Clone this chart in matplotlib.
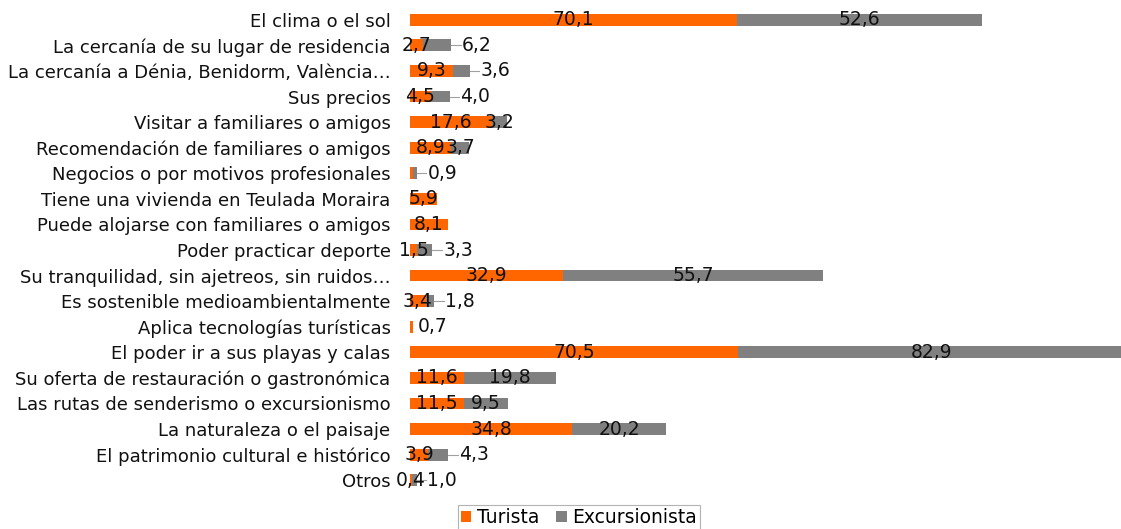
import matplotlib
matplotlib.use("Agg")
import matplotlib.pyplot as plt

categories = [
    "El clima o el sol",
    "La cercanía de su lugar de residencia",
    "La cercanía a Dénia, Benidorm, València…",
    "Sus precios",
    "Visitar a familiares o amigos",
    "Recomendación de familiares o amigos",
    "Negocios o por motivos profesionales",
    "Tiene una vivienda en Teulada Moraira",
    "Puede alojarse con familiares o amigos",
    "Poder practicar deporte",
    "Su tranquilidad, sin ajetreos, sin ruidos…",
    "Es sostenible medioambientalmente",
    "Aplica tecnologías turísticas",
    "El poder ir a sus playas y calas",
    "Su oferta de restauración o gastronómica",
    "Las rutas de senderismo o excursionismo",
    "La naturaleza o el paisaje",
    "El patrimonio cultural e histórico",
    "Otros",
]
turista = [70.1, 2.7, 9.3, 4.5, 17.6, 8.9, 0.6, 5.9, 8.1, 1.5,
           32.9, 3.4, 0.7, 70.5, 11.6, 11.5, 34.8, 3.9, 0.4]
excursionista = [52.6, 6.2, 3.6, 4.0, 3.2, 3.7, 0.9, 0.0, 0.0, 3.3,
                 55.7, 1.8, 0.0, 82.9, 19.8, 9.5, 20.2, 4.3, 1.0]

# label placement (Excel best-fit look)
turista_nolabel = {6}
turista_outside = {12}
excur_outside = {1, 2, 3, 6, 9, 11, 17, 18}

ORANGE = "#FF6600"
GRAY = "#808080"
TXT = "#111111"
FS_CAT = 13
FS_VAL = 13.5

plt.rcParams['font.family'] = ['DejaVu Sans']

fig = plt.figure(figsize=(11.21, 5.29), dpi=100)
ax = fig.add_axes([410 / 1121, 1 - 493 / 529, 1 - 410 / 1121, 486 / 529])

y = list(range(len(categories)))
ax.barh(y, turista, height=0.46, color=ORANGE, label="Turista")
ax.barh(y, excursionista, left=turista, height=0.46, color=GRAY, label="Excursionista")

ax.set_xlim(0, 152.6)
ax.set_ylim(len(categories) - 0.5, -0.5)
ax.set_yticks(y)
ax.set_yticklabels(categories, fontsize=FS_CAT, color=TXT)
ax.tick_params(axis='y', length=0, pad=14)
ax.set_xticks([])
for s in ax.spines.values():
    s.set_visible(False)

def fmt(v):
    return f"{v:.1f}".replace(".", ",")

for i in y:
    t, e = turista[i], excursionista[i]
    if i not in turista_nolabel:
        if i in turista_outside:
            ax.text(t + 1.0, i, fmt(t), ha='left', va='center', fontsize=FS_VAL, color=TXT)
        else:
            ax.text(t / 2, i, fmt(t), ha='center', va='center', fontsize=FS_VAL, color=TXT)
    if e > 0:
        end = t + e
        if i in excur_outside:
            ax.plot([end, end + 2.0], [i, i], color="#a0a0a0", lw=0.8)
            ax.text(end + 2.3, i, fmt(e), ha='left', va='center', fontsize=FS_VAL, color=TXT)
        else:
            ax.text(t + e / 2, i, fmt(e), ha='center', va='center', fontsize=FS_VAL, color=TXT)

leg = fig.legend(loc='upper center', bbox_to_anchor=(579 / 1121, 1 - 505 / 529),
                 ncol=2, fontsize=FS_VAL, frameon=True, fancybox=False,
                 handlelength=0.55, handleheight=0.55, handletextpad=0.3,
                 columnspacing=0.9, borderpad=0.15, borderaxespad=0)
leg.get_frame().set_edgecolor("#a0a0a0")
leg.get_frame().set_linewidth(0.8)

fig.savefig("out.png", dpi=100)
